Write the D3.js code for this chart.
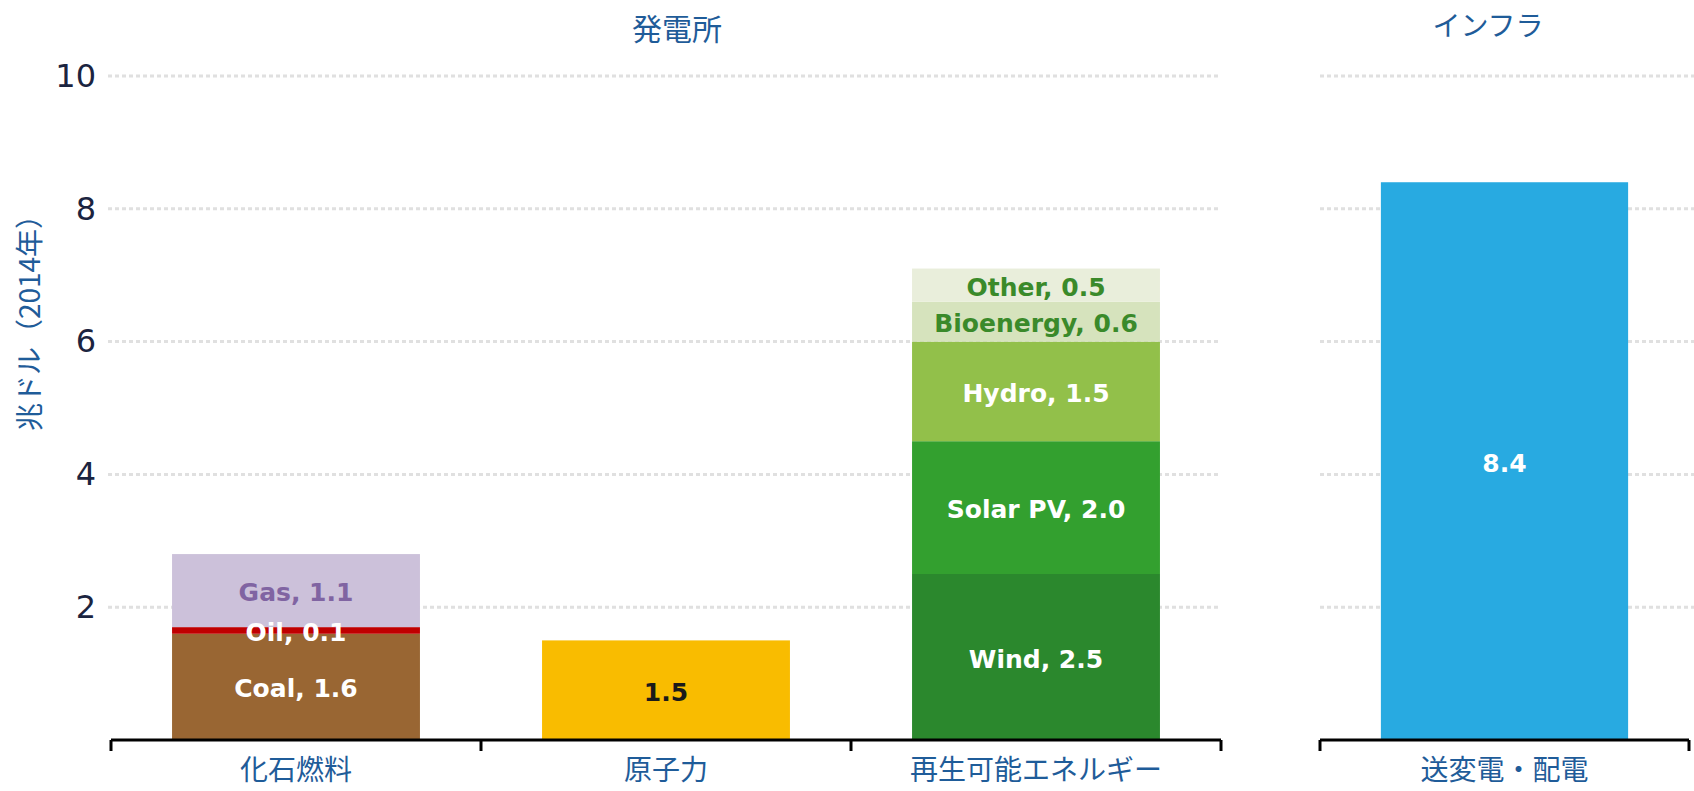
<!DOCTYPE html>
<html>
<head>
<meta charset="utf-8">
<script src="https://cdn.jsdelivr.net/npm/d3@7/dist/d3.min.js"></script>
<style>
  body { margin: 0; background: #fff; }
  svg { display: block; }
  .cjk { font-family: "Noto Sans CJK JP", "Noto Sans", sans-serif; fill: #1f5c99; }
  .seg { font-family: "DejaVu Sans", Verdana, sans-serif; font-weight: bold; }
</style>
</head>
<body>
<div id="chart"></div>
<script>
// categories
const plantGroups = ["化石燃料", "原子力", "再生可能エネルギー"];
const infraGroups = ["送変電・配電"];
const panelTitles = ["発電所", "インフラ"];
const yTicks = [2, 4, 6, 8, 10];
const yTitle = "兆ドル（2014年）";

// series values (trillion USD)
const fossilNames = ["Coal", "Oil", "Gas"];
const fossilValues = [1.6, 0.1, 1.1];
const nuclearValues = [1.5];
const renewNames = ["Wind", "Solar PV", "Hydro", "Bioenergy", "Other"];
const renewValues = [2.5, 2.0, 1.5, 0.6, 0.5];
const infraValues = [8.4];

// colours
const fossilColors = ["#996633", "#c00000", "#ccc1da"];
const fossilText = ["#ffffff", "#ffffff", "#8064a2"];
const renewColors = ["#2b882d", "#33a02f", "#92c04a", "#d6e3bd", "#e9eedb"];
const renewText = ["#ffffff", "#ffffff", "#ffffff", "#3a8a2a", "#3a8a2a"];

const W = 1694, H = 791;
const svg = d3.select("#chart").append("svg").attr("width", W).attr("height", H);

const y = d3.scaleLinear().domain([0, 10]).range([740, 76]);

const xPlant = d3.scaleBand().domain(plantGroups).range([111, 1221])
  .paddingInner(0.33).paddingOuter(0.165);
const xInfra = d3.scaleBand().domain(infraGroups).range([1320, 1689])
  .paddingInner(0.33).paddingOuter(0.165);

// build stacked segments
function stack(group, names, values, colors, textColors, labelFn) {
  let acc = 0;
  return values.map((v, i) => {
    const s = { group, y0: acc, y1: acc + v, color: colors[i], text: textColors[i],
      label: labelFn(names ? names[i] : null, v) };
    acc += v;
    return s;
  });
}
const named = (n, v) => `${n}, ${v.toFixed(1)}`;
const plain = (n, v) => v.toFixed(1);

const plantSegs = [
  ...stack(plantGroups[0], fossilNames, fossilValues, fossilColors, fossilText, named),
  ...stack(plantGroups[1], null, nuclearValues, ["#f9bc00"], ["#1a1a1a"], plain),
  ...stack(plantGroups[2], renewNames, renewValues, renewColors, renewText, named)
];
const infraSegs = stack(infraGroups[0], null, infraValues, ["#28aae1"], ["#ffffff"], plain);

// gridlines
function grid(x0, x1) {
  svg.append("g").selectAll("line").data(yTicks).join("line")
    .attr("x1", x0).attr("x2", x1)
    .attr("y1", d => y(d)).attr("y2", d => y(d))
    .attr("stroke", "#e0e0e0").attr("stroke-width", 3)
    .attr("stroke-dasharray", "4,3");
}
grid(108, 1221);
grid(1320, 1694);

// y axis labels
const yAxis = svg.append("g").attr("transform", "translate(96,0)")
  .call(d3.axisLeft(y).tickValues(yTicks).tickSize(0).tickPadding(0));
yAxis.select(".domain").remove();
yAxis.selectAll("text")
  .attr("font-family", "DejaVu Sans, Verdana, sans-serif")
  .attr("font-size", 32).attr("fill", "#1b2440");

svg.append("text").attr("class", "cjk")
  .attr("transform", "translate(40,316) rotate(-90)")
  .attr("text-anchor", "middle").attr("font-size", 28)
  .text(yTitle);

// bars
function drawBars(segs, x) {
  const g = svg.append("g");
  g.selectAll("rect").data(segs).join("rect")
    .attr("x", d => x(d.group)).attr("width", x.bandwidth())
    .attr("y", d => y(d.y1)).attr("height", d => y(d.y0) - y(d.y1))
    .attr("fill", d => d.color);
  g.selectAll("text").data(segs).join("text").attr("class", "seg")
    .attr("x", d => x(d.group) + x.bandwidth() / 2)
    .attr("y", d => (y(d.y0) + y(d.y1)) / 2 + 2)
    .attr("text-anchor", "middle").attr("dominant-baseline", "central")
    .attr("font-size", 25).attr("fill", d => d.text)
    .text(d => d.label);
}
drawBars(plantSegs, xPlant);
drawBars(infraSegs, xInfra);

// x axes
function xAxis(x, groups) {
  const r = x.range();
  const g = svg.append("g");
  g.append("line").attr("x1", r[0]).attr("x2", r[1])
    .attr("y1", 740).attr("y2", 740).attr("stroke", "#000").attr("stroke-width", 3);
  const bounds = groups.map(d => x(d) - x.step() * x.paddingInner() / 2).concat([r[1]]);
  bounds[0] = r[0];
  g.selectAll(".tk").data(bounds).join("line")
    .attr("x1", d => d).attr("x2", d => d)
    .attr("y1", 740).attr("y2", 751).attr("stroke", "#000").attr("stroke-width", 3);
  g.selectAll("text").data(groups).join("text").attr("class", "cjk")
    .attr("x", d => x(d) + x.bandwidth() / 2).attr("y", 768)
    .attr("text-anchor", "middle").attr("dominant-baseline", "central")
    .attr("font-size", 28).text(d => d);
}
xAxis(xPlant, plantGroups);
xAxis(xInfra, infraGroups);

// panel titles
svg.append("text").attr("class", "cjk").attr("x", 677).attr("y", 27)
  .attr("text-anchor", "middle").attr("dominant-baseline", "central")
  .attr("font-size", 30).text(panelTitles[0]);
svg.append("text").attr("class", "cjk").attr("x", 1488).attr("y", 24)
  .attr("text-anchor", "middle").attr("dominant-baseline", "central")
  .attr("font-size", 28).text(panelTitles[1]);
</script>
</body>
</html>
